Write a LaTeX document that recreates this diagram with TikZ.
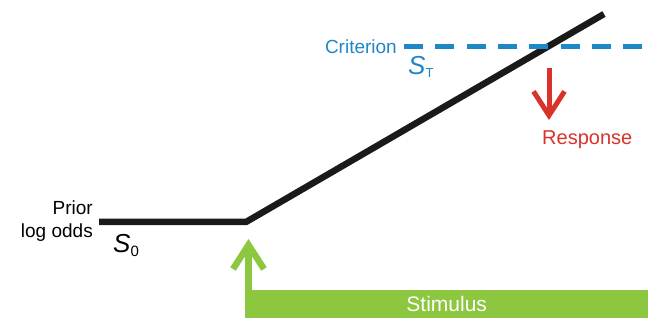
\documentclass[tikz,border=0pt]{standalone}
\usepackage{fontspec}
\setmainfont{Liberation Sans}
\usetikzlibrary{arrows.meta}
\definecolor{lineblack}{HTML}{1A1A1A}
\definecolor{critblue}{HTML}{1E88C7}
\definecolor{respred}{HTML}{D8322A}
\definecolor{stimgreen}{HTML}{8DC63F}
\tikzset{
  lbl/.style={inner sep=0pt, font=\fontsize{19}{23}\selectfont},
  barb/.style={line width=#1, -{Straight Barb[length=24pt,width=31pt]}},
  evidence/.style={draw=lineblack, line width=6.5pt, line cap=butt, line join=miter},
}
\begin{document}
\begin{tikzpicture}[x=1pt,y=-1pt]
\useasboundingbox (0,0) rectangle (648,320);
% evidence trajectory
\coordinate (p0) at (99,222);
\coordinate (p1) at (246,222);
\coordinate (p2) at (604,14);
\draw[evidence] (p0) -- (p1) -- (p2);
% criterion
\coordinate (c0) at (404,47);
\coordinate (c1) at (648,47);
\draw[critblue, line width=5pt, dash pattern=on 19pt off 12.3pt] (c0) -- (c1);
\node[lbl, text=critblue, anchor=base east] (crit) at (397,54) {Criterion};
\node[inner sep=0pt, text=critblue, anchor=base west] (st) at (408,75)
  {\fontsize{26}{26}\selectfont\itshape S\upshape\raisebox{-3pt}{\fontsize{13}{13}\selectfont T}};
% response
\coordinate (r0) at (549,68);
\coordinate (r1) at (549,120);
\draw[respred, barb=5pt] (r0) -- (r1);
\node[lbl, text=respred, anchor=base west, font=\fontsize{20}{24}\selectfont] (resp) at (542,145) {Response};
% prior
\node[lbl, align=right, anchor=east] (prior) at (93,221.5) {Prior\\log odds};
\node[inner sep=0pt, anchor=base west] (s0) at (113,253)
  {\fontsize{26}{26}\selectfont\itshape S\upshape\raisebox{-4pt}{\fontsize{15}{15}\selectfont 0}};
% stimulus
\node[fill=stimgreen, minimum width=403pt, minimum height=28pt, inner sep=0pt,
      anchor=north west, text=white, font=\fontsize{21}{25}\selectfont] (stim) at (245,290) {Stimulus};
\coordinate (g0) at ([xshift=3.5pt]stim.north west);
\coordinate (g1) at (248.5,239);
\draw[stimgreen, barb=6.5pt] (g0) -- (g1);
\end{tikzpicture}
\end{document}
